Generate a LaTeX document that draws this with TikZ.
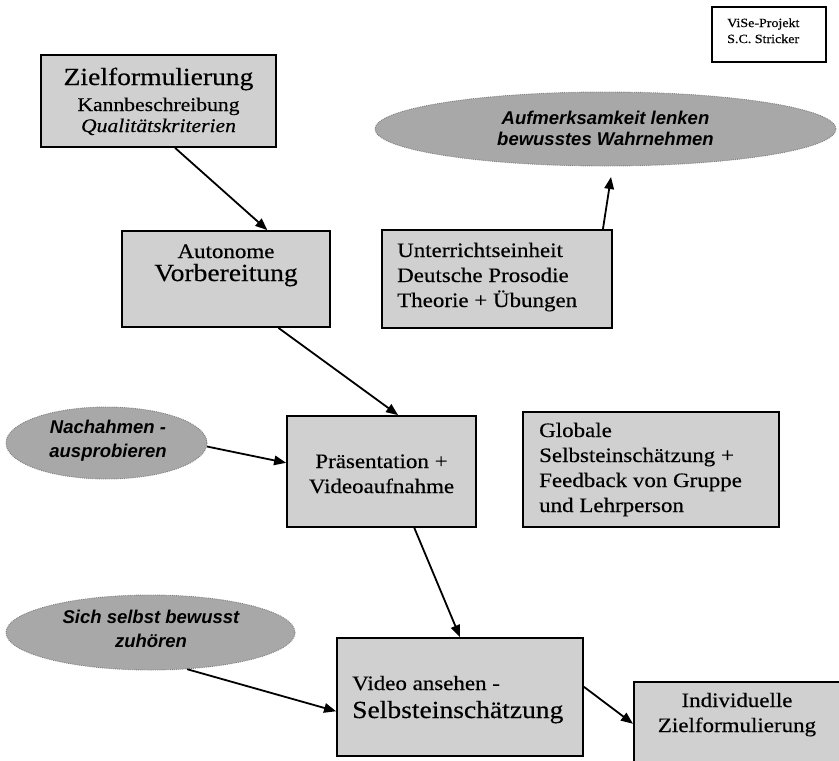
\documentclass[tikz,border=0pt]{standalone}
\usepackage{fontspec}
\setmainfont{Liberation Serif}[FakeStretch=1.12,FakeBold=0.35,
  ItalicFont={Liberation Serif Italic},ItalicFeatures={FakeStretch=1.12,FakeBold=0.35}]
\newfontfamily\ellfont{Liberation Sans}
\usetikzlibrary{arrows.meta,calc,shapes.geometric}
\definecolor{boxgray}{HTML}{D0D0D0}
\definecolor{ellgray}{HTML}{A8A8A8}
\definecolor{elledge}{HTML}{808080}
\begin{document}
\begin{tikzpicture}[x=1pt,y=-1pt,
  box/.style={draw=black, line width=1.8pt, fill=boxgray, inner sep=0pt, rectangle},
  ell/.style={draw=elledge, densely dotted, line width=0.9pt, fill=ellgray, ellipse, inner sep=0pt},
  conn/.style={line width=1.8pt, -{Triangle[length=12pt,width=9.5pt]}},
  ctxt/.style={inner sep=0pt, anchor=base},
  ltxt/.style={inner sep=0pt, anchor=base west},
  nrm/.style={font=\fontsize{20.5}{24}\selectfont},
  big/.style={font=\fontsize{24.6}{28}\selectfont},
  sml/.style={font=\fontsize{19.3}{22}\selectfont},
  smlit/.style={font=\fontsize{19.3}{22}\selectfont\itshape},
  tiny/.style={font=\fontsize{12.5}{15}\selectfont},
  etxt/.style={inner sep=0pt, anchor=base, font=\ellfont\bfseries\itshape\fontsize{18.5}{21}\selectfont},
]
\useasboundingbox (0,0) rectangle (839,761);
\clip (0,0) rectangle (839,761);

% boxes
\node[box, minimum width=235pt, minimum height=92pt] (ziel) at (158.5,101) {};
\node[box, minimum width=208pt, minimum height=96pt] (auto) at (226,279) {};
\node[box, minimum width=230pt, minimum height=98pt] (unter) at (497,279) {};
\node[box, fill=white, line width=1.2pt, minimum width=114pt, minimum height=55pt] (vise) at (769,34.5) {};
\node[box, minimum width=189pt, minimum height=111pt] (praes) at (381.5,471.5) {};
\node[box, minimum width=256pt, minimum height=115pt] (glob) at (651,469.5) {};
\node[box, minimum width=246pt, minimum height=118pt] (video) at (460,697) {};
\node[box, minimum width=212pt, minimum height=95pt, anchor=north west] (indiv) at (633,681) {};

% ellipses
\node[ell, minimum width=461pt, minimum height=74pt] (aufm) at (605.5,129) {};
\node[ell, minimum width=201pt, minimum height=72pt] (nach) at (106.5,443) {};
\node[ell, minimum width=289pt, minimum height=75pt] (sich) at (150.5,632.5) {};

% texts
\node[ctxt, big] (t1) at (158.5,85) {Zielformulierung};
\node[ctxt, sml] (t2) at (158.5,111) {Kannbeschreibung};
\node[ctxt, smlit] (t3) at (158.5,132) {Qualitätskriterien};

\node[ctxt, nrm] (t4) at (226,258) {Autonome};
\node[ctxt, big] (t5) at (226,281) {Vorbereitung};

\node[ltxt, nrm] (t6) at (397,257) {Unterrichtseinheit};
\node[ltxt, nrm] (t7) at (397,282) {Deutsche Prosodie};
\node[ltxt, nrm] (t8) at (397,307) {Theorie + Übungen};

\node[ltxt, tiny] (t9) at (727,27) {ViSe-Projekt};
\node[ltxt, tiny] (t10) at (727,43) {S.C. Stricker};

\node[etxt] (t11) at (605.5,124) {Aufmerksamkeit lenken};
\node[etxt] (t12) at (605.5,145) {bewusstes Wahrnehmen};

\node[etxt] (t13) at (108,433) {Nachahmen -};
\node[etxt] (t14) at (108,457) {ausprobieren};

\node[etxt] (t15) at (151,623) {Sich selbst bewusst};
\node[etxt] (t16) at (151,647) {zuhören};

\node[ctxt, nrm] (t17) at (381.5,468) {Präsentation +};
\node[ctxt, nrm] (t18) at (381.5,493) {Videoaufnahme};

\node[ltxt, nrm] (t19) at (539,437) {Globale};
\node[ltxt, nrm] (t20) at (539,462) {Selbsteinschätzung +};
\node[ltxt, nrm] (t21) at (539,487) {Feedback von Gruppe};
\node[ltxt, nrm] (t22) at (539,512) {und Lehrperson};

\node[ltxt, nrm] (t23) at (352,690) {Video ansehen -};
\node[ltxt, big] (t24) at (352,718) {Selbsteinschätzung};

\node[ctxt, nrm] (t25) at (737,707) {Individuelle};
\node[ctxt, nrm] (t26) at (737,732) {Zielformulierung};

% connectors
\coordinate (aufmtip) at (611,177);
\draw[conn] ($(ziel.south west)!0.570!(ziel.south east)$) -- ($(auto.north west)!0.697!(auto.north east)$);
\draw[conn] ($(auto.south west)!0.75!(auto.south east)$) -- ($(praes.north west)!0.587!(praes.north east)$);
\draw[conn] ($(unter.north west)!0.957!(unter.north east)$) -- (aufmtip);
\draw[conn] (nach.-2.5) -- ($(praes.north west)!0.423!(praes.south west)$);
\draw[conn] ($(praes.south west)!0.672!(praes.south east)$) -- (video.north);
\draw[conn] (sich.-45) -- ($(video.north west)!0.619!(video.south west)$);
\draw[conn] ($(video.north east)!0.415!(video.south east)$) -- ($(indiv.north west)!0.442!(indiv.south west)$);
\end{tikzpicture}
\end{document}
